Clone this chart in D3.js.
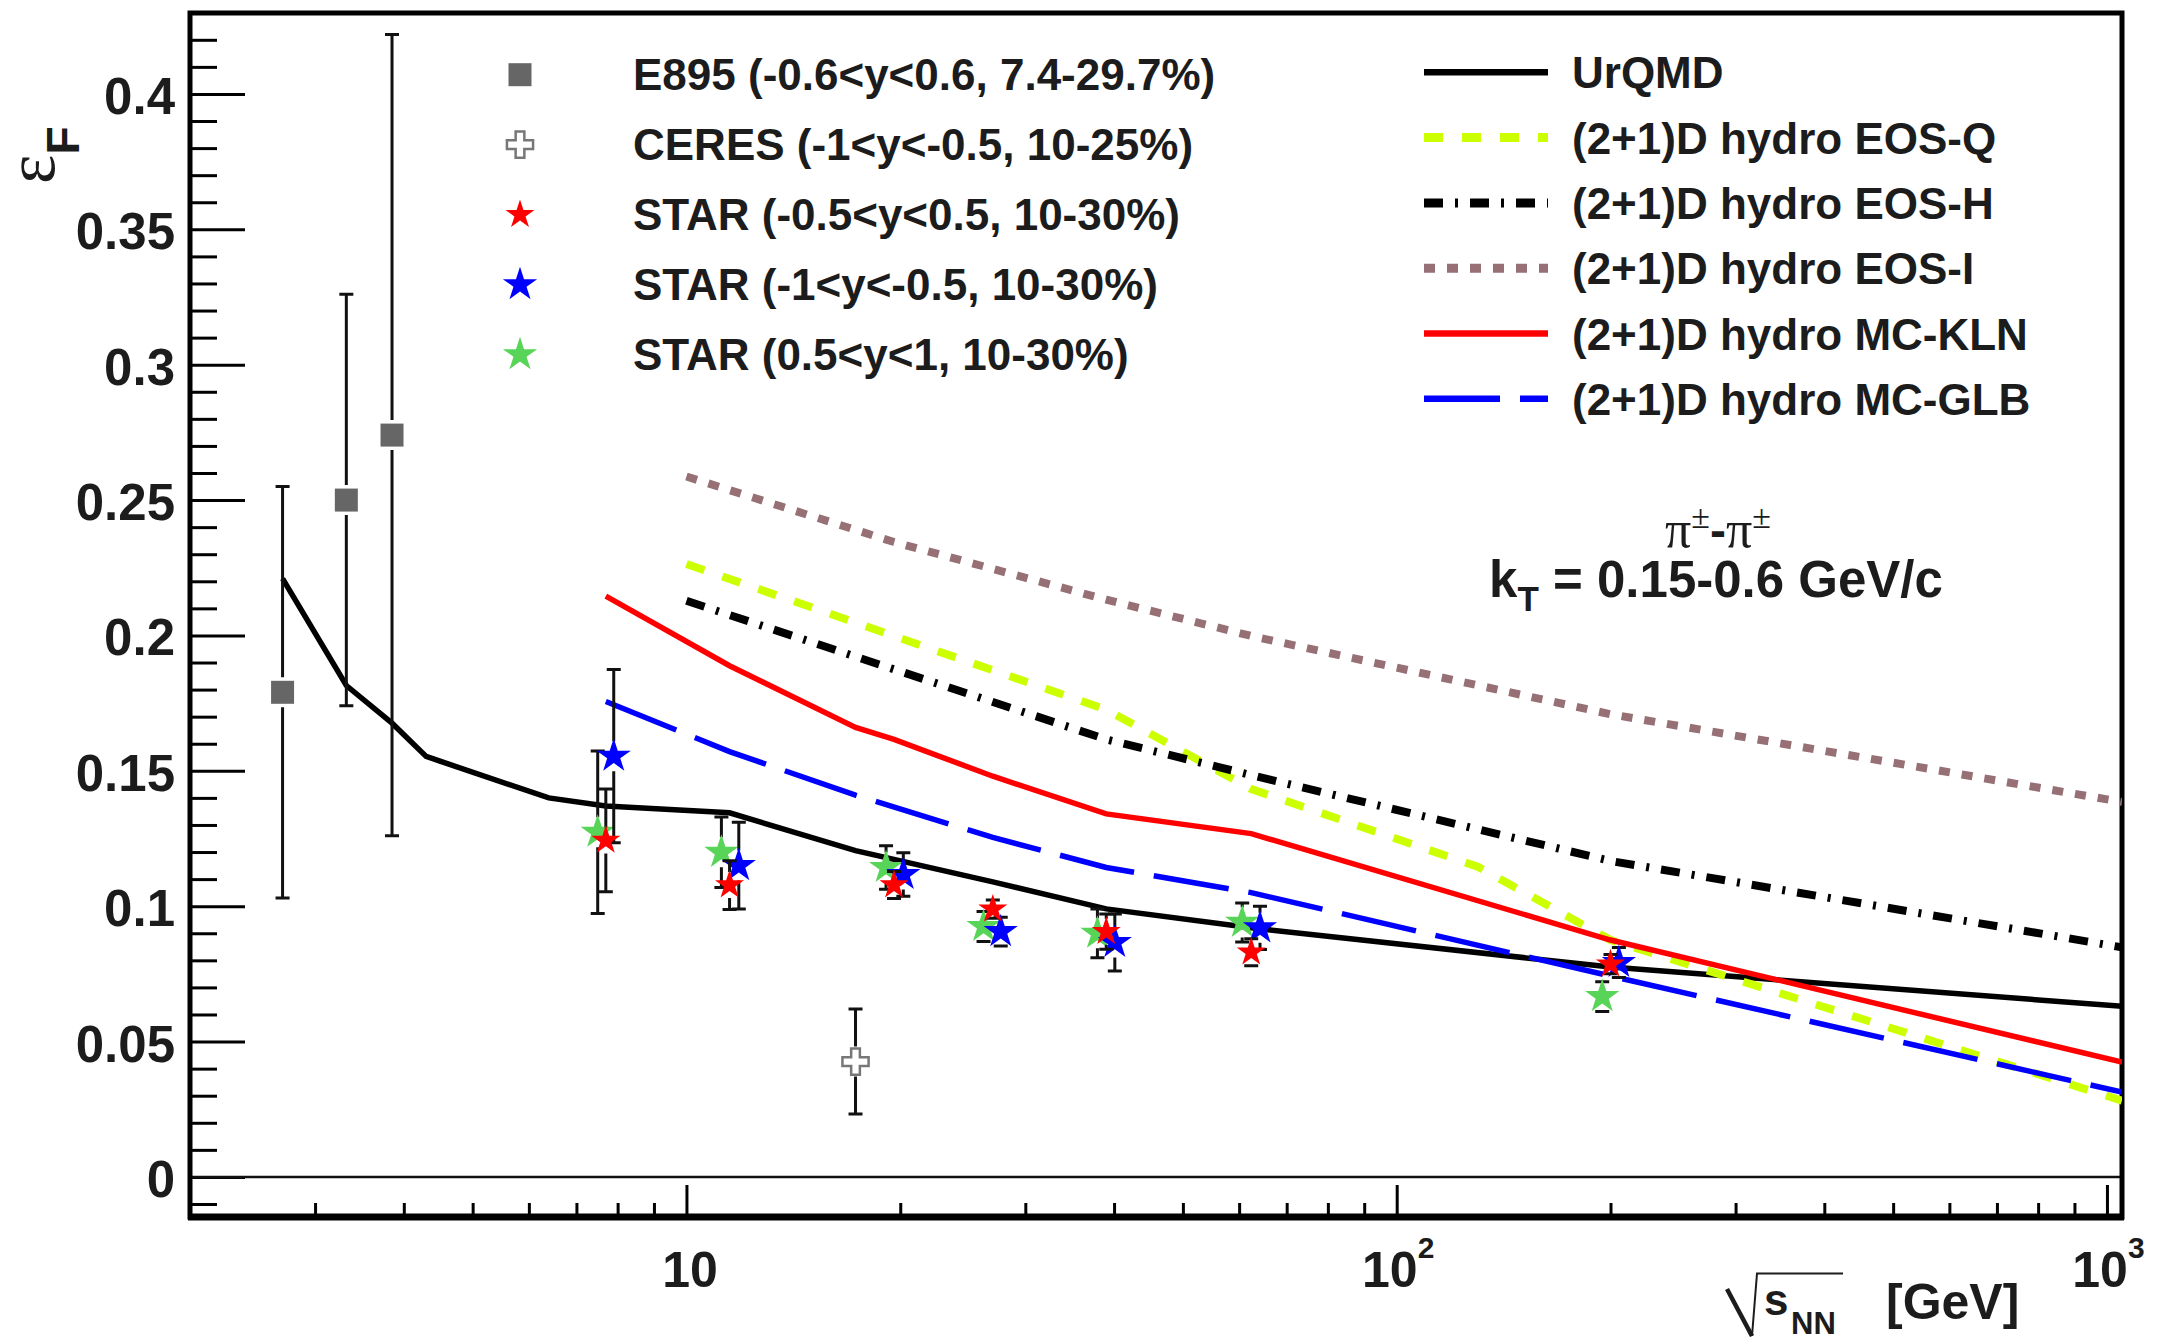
<!DOCTYPE html>
<html>
<head>
<meta charset="utf-8">
<script src="https://cdn.jsdelivr.net/npm/d3@7"></script>
<style>
  body { margin: 0; background: #fff; }
  svg { display: block; font-family: "Liberation Sans", Arial, Helvetica, sans-serif; font-weight: bold; }
</style>
</head>
<body>
<svg id="chart" width="2160" height="1337"></svg>
<script>
// ---- data ----
var e895X = [2.7, 3.32, 3.85];
var e895Y = [0.179, 0.250, 0.274];
var e895Err = [0.076, 0.076, 0.148];

var ceresX = [17.3];
var ceresY = [0.0426];
var ceresErr = [0.0194];

// STAR, -0.5<y<0.5 (red)
var starMidX = [7.7, 11.5, 19.6, 27, 39, 62.4, 200];
var starMidY = [0.1243, 0.1078, 0.1078, 0.0989, 0.0906, 0.0830, 0.0786];
var starMidErr = [0.019, 0.009, 0.005, 0.0034, 0.0065, 0.005, 0.0036];

// STAR, -1<y<-0.5 (blue)
var starBackX = [7.9, 11.85, 20.2, 27.7, 40.1, 64.2, 205.5];
var starBackY = [0.1554, 0.1150, 0.1117, 0.0906, 0.0866, 0.0920, 0.0792];
var starBackErr = [0.032, 0.016, 0.008, 0.0053, 0.0105, 0.008, 0.0055];

// STAR, 0.5<y<1 (green)
var starFwdX = [7.5, 11.2, 19.1, 26.2, 37.9, 60.6, 194.7];
var starFwdY = [0.1273, 0.1199, 0.1143, 0.0925, 0.0900, 0.0940, 0.0666];
var starFwdErr = [0.030, 0.013, 0.008, 0.0055, 0.009, 0.0072, 0.0055];

// model curves
var urqmdX = [2.7, 3.32, 3.85, 4.3, 6.4, 7.7, 11.5, 17.3, 27, 39, 62.4, 200, 1050];
var urqmdY = [0.221, 0.1815, 0.1676, 0.1553, 0.140, 0.137, 0.1345, 0.1205, 0.109, 0.099, 0.092, 0.0775, 0.063];
var eosQX = [10, 39, 62.4, 130, 200, 1050];
var eosQY = [0.2264, 0.1726, 0.1433, 0.1146, 0.0875, 0.0282];
var eosHX = [10, 39, 62.4, 200, 1050];
var eosHY = [0.2128, 0.1616, 0.1484, 0.1167, 0.0848];
var eosIX = [10, 19.6, 39, 62.4, 200, 1050];
var eosIY = [0.2587, 0.2345, 0.2132, 0.1998, 0.1709, 0.1385];
var klnX = [7.7, 11.5, 17.3, 19.6, 27, 39, 62.4, 200, 1050];
var klnY = [0.2145, 0.1888, 0.166, 0.1616, 0.148, 0.1341, 0.1268, 0.0875, 0.0424];
var glbX = [7.7, 11.5, 17.3, 27, 39, 62.4, 200, 1050];
var glbY = [0.1756, 0.1571, 0.141, 0.1254, 0.1143, 0.105, 0.0742, 0.0313];

// axes
var yTickValues = [0, 0.05, 0.1, 0.15, 0.2, 0.25, 0.3, 0.35, 0.4];
var yTickLabels = ["0", "0.05", "0.1", "0.15", "0.2", "0.25", "0.3", "0.35", "0.4"];
var xTickValues = [10, 100, 1000];
var xTickBase = ["10", "10", "10"];
var xTickExp = ["", "2", "3"];

var markerLabels = ["E895 (-0.6<y<0.6, 7.4-29.7%)", "CERES (-1<y<-0.5, 10-25%)",
  "STAR (-0.5<y<0.5, 10-30%)", "STAR (-1<y<-0.5, 10-30%)", "STAR (0.5<y<1, 10-30%)"];
var lineLabels = ["UrQMD", "(2+1)D hydro EOS-Q", "(2+1)D hydro EOS-H", "(2+1)D hydro EOS-I",
  "(2+1)D hydro MC-KLN", "(2+1)D hydro MC-GLB"];

// ---- setup ----
var svg = d3.select("#chart");
var textColor = "#1c1c1c";
var frameL = 190, frameR = 2122, frameT = 13, frameB = 1217;

var x = d3.scaleLog().domain([2, 1050]).range([frameL, frameR]);
var y = d3.scaleLinear().domain([-0.0148, 0.4299]).range([frameB, frameT]);

svg.append("rect").attr("width", 2160).attr("height", 1337).attr("fill", "#fff");

svg.append("defs").append("clipPath").attr("id", "clip")
  .append("rect").attr("x", frameL).attr("y", frameT).attr("width", frameR - frameL).attr("height", frameB - frameT);

// ---- axes ----
var yMinor = d3.range(-1, 43).map(function(i) { return i / 100; })
  .filter(function(v) { return Math.round(v * 100) % 5 !== 0; });

svg.append("g").attr("transform", "translate(" + frameL + ",0)")
  .call(d3.axisLeft(y).tickValues(yMinor).tickSize(-27).tickFormat(""))
  .call(function(g) { g.select(".domain").remove(); });

var yg = svg.append("g").attr("transform", "translate(" + frameL + ",0)")
  .call(d3.axisLeft(y).tickValues(yTickValues).tickSize(-55).tickPadding(15)
    .tickFormat(function(d, i) { return yTickLabels[i]; }))
  .call(function(g) { g.select(".domain").remove(); });
yg.attr("font-family", null).attr("font-size", null);
yg.selectAll("text").attr("font-size", 51).attr("fill", textColor).attr("dy", 19.5);

var xMinor = [];
[1, 10, 100].forEach(function(b) { d3.range(2, 10).forEach(function(k) { if (b * k > 2) xMinor.push(b * k); }); });

svg.append("g").attr("transform", "translate(0," + frameB + ")")
  .call(d3.axisBottom(x).tickValues(xMinor).tickSize(-14).tickFormat(""))
  .call(function(g) { g.select(".domain").remove(); });

var xg = svg.append("g").attr("transform", "translate(0," + frameB + ")")
  .call(d3.axisBottom(x).tickValues(xTickValues).tickSize(-32).tickFormat(""))
  .call(function(g) { g.select(".domain").remove(); });
xg.attr("font-family", null).attr("font-size", null);

svg.selectAll(".tick line").attr("stroke", "#000").attr("stroke-width", 3);

xg.selectAll(".tick").each(function(d, i) {
  var t = d3.select(this).append("text")
    .attr("text-anchor", "middle").attr("x", xTickExp[i] ? 1 : 3).attr("y", 70)
    .attr("fill", textColor).attr("font-size", 50);
  t.append("tspan").text(xTickBase[i]);
  if (xTickExp[i]) t.append("tspan").attr("font-size", 30).attr("dy", -29).text(xTickExp[i]);
});

// zero line and frame
svg.append("line").attr("x1", frameL).attr("x2", frameR).attr("y1", y(0)).attr("y2", y(0))
  .attr("stroke", "#111").attr("stroke-width", 2.5);
svg.append("rect").attr("x", frameL).attr("y", frameT).attr("width", frameR - frameL).attr("height", frameB - frameT)
  .attr("fill", "none").attr("stroke", "#000").attr("stroke-width", 5);
svg.append("line").attr("x1", frameL - 2).attr("x2", frameR + 2).attr("y1", frameB).attr("y2", frameB)
  .attr("stroke", "#000").attr("stroke-width", 7);

// ---- model curves ----
var plot = svg.append("g").attr("clip-path", "url(#clip)");
var line = d3.line().x(function(d) { return x(d[0]); }).y(function(d) { return y(d[1]); });

var models = [
  {xs: urqmdX, ys: urqmdY, color: "#000", w: 5.5, dash: null},
  {xs: eosQX, ys: eosQY, color: "#ccff00", w: 8, dash: "19,19"},
  {xs: eosHX, ys: eosHY, color: "#000", w: 8, dash: "19,12,3,12"},
  {xs: eosIX, ys: eosIY, color: "#967075", w: 8, dash: "11,12"},
  {xs: klnX, ys: klnY, color: "#ff0000", w: 5.5, dash: null},
  {xs: glbX, ys: glbY, color: "#0000ff", w: 5.5, dash: "76,20"}
];

models.forEach(function(m) {
  plot.append("path")
    .datum(d3.zip(m.xs, m.ys))
    .attr("d", line)
    .attr("fill", "none")
    .attr("stroke", m.color)
    .attr("stroke-width", m.w)
    .attr("stroke-dasharray", m.dash);
});

// ---- data points ----
function drawPoints(xs, ys, errs, opt) {
  var pts = xs.map(function(d, i) { return {x: d, y: ys[i], e: errs[i]}; });
  var g = plot.append("g");
  g.selectAll(".err").data(pts).enter().append("path")
    .attr("d", function(d) {
      var px = x(d.x), t = y(d.y + d.e), b = y(d.y - d.e), c = y(d.y), gap = opt.gap;
      var s = "";
      if (c - gap > t) s += "M" + px + "," + t + "V" + (c - gap);
      if (c + gap < b) s += "M" + px + "," + (c + gap) + "V" + b;
      s += "M" + (px - 7) + "," + t + "H" + (px + 7) + "M" + (px - 7) + "," + b + "H" + (px + 7);
      return s;
    })
    .attr("fill", "none").attr("stroke", "#111").attr("stroke-width", 3);
  g.selectAll(".mk").data(pts).enter().append("path")
    .attr("transform", function(d) { return "translate(" + x(d.x) + "," + y(d.y) + ")"; })
    .attr("d", d3.symbol(opt.type, opt.size))
    .attr("fill", opt.fill)
    .attr("stroke", opt.stroke || "none")
    .attr("stroke-width", opt.sw || 0);
}

var styles = [
  {type: d3.symbolSquare, size: 529, fill: "#666", gap: 15},
  {type: d3.symbolCross, size: 380, fill: "#fff", stroke: "#777", sw: 2.5, gap: 15},
  {type: d3.symbolStar, size: 262, fill: "#ff0000", gap: 13},
  {type: d3.symbolStar, size: 364, fill: "#0000ff", gap: 15},
  {type: d3.symbolStar, size: 364, fill: "#58d458", gap: 15}
];

drawPoints(e895X, e895Y, e895Err, styles[0]);
drawPoints(ceresX, ceresY, ceresErr, styles[1]);
drawPoints(starFwdX, starFwdY, starFwdErr, styles[4]);
drawPoints(starBackX, starBackY, starBackErr, styles[3]);
drawPoints(starMidX, starMidY, starMidErr, styles[2]);

// ---- legends ----
var leg1 = svg.append("g");
markerLabels.forEach(function(label, i) {
  var cy = 74.7 + 70 * i;
  var st = styles[i];
  leg1.append("path")
    .attr("transform", "translate(520," + cy + ")")
    .attr("d", d3.symbol(st.type, st.size))
    .attr("fill", st.fill).attr("stroke", st.stroke || "none").attr("stroke-width", st.sw || 0);
  leg1.append("text").attr("x", 633).attr("y", cy + 15)
    .attr("font-size", 44).attr("fill", textColor).text(label);
});

var leg2 = svg.append("g");
lineLabels.forEach(function(label, i) {
  var cy = 72.3 + 65.3 * i;
  var m = models[i];
  leg2.append("line").attr("x1", 1424).attr("x2", 1548).attr("y1", cy).attr("y2", cy)
    .attr("stroke", m.color).attr("stroke-width", m.w + 1).attr("stroke-dasharray", m.dash);
  leg2.append("text").attr("x", 1572).attr("y", cy + 16)
    .attr("font-size", 44).attr("fill", textColor).text(label);
});

// ---- annotations ----
var serif = "Liberation Serif, serif";
var pi = svg.append("text").attr("x", 1718).attr("y", 547).attr("text-anchor", "middle")
  .attr("fill", textColor);
pi.append("tspan").attr("font-family", serif).attr("font-weight", "normal").attr("font-size", 52).text("π");
pi.append("tspan").attr("font-family", serif).attr("font-weight", "normal").attr("font-size", 34).attr("dy", -19).text("±");
pi.append("tspan").attr("font-size", 48).attr("dy", 19).text("-");
pi.append("tspan").attr("font-family", serif).attr("font-weight", "normal").attr("font-size", 52).text("π");
pi.append("tspan").attr("font-family", serif).attr("font-weight", "normal").attr("font-size", 34).attr("dy", -19).text("±");

var kt = svg.append("text").attr("x", 1716).attr("y", 597).attr("text-anchor", "middle")
  .attr("font-size", 51).attr("fill", textColor);
kt.append("tspan").text("k");
kt.append("tspan").attr("font-size", 35).attr("dy", 14).text("T");
kt.append("tspan").attr("dy", -14).text(" = 0.15-0.6 GeV/c");

// y title
var yt = svg.append("text").attr("transform", "translate(54,184) rotate(-90)").attr("fill", textColor);
yt.append("tspan").attr("font-family", serif).attr("font-weight", "normal")
  .attr("font-size", 70).text("ε");
yt.append("tspan").attr("font-size", 46).attr("dy", 25).text("F");

// x title
svg.append("path").attr("d", "M1727,1289L1752,1336").attr("stroke", textColor).attr("stroke-width", 4.5).attr("fill", "none");
svg.append("path").attr("d", "M1752,1336L1757,1273.5H1843").attr("stroke", textColor).attr("stroke-width", 2).attr("fill", "none");
svg.append("text").attr("x", 1764).attr("y", 1315).attr("font-size", 44).attr("fill", textColor).text("s");
svg.append("text").attr("x", 1791).attr("y", 1334).attr("font-size", 31).attr("fill", textColor).text("NN");
svg.append("text").attr("x", 1886).attr("y", 1319).attr("font-size", 50).attr("fill", textColor).text("[GeV]");
</script>
</body>
</html>
